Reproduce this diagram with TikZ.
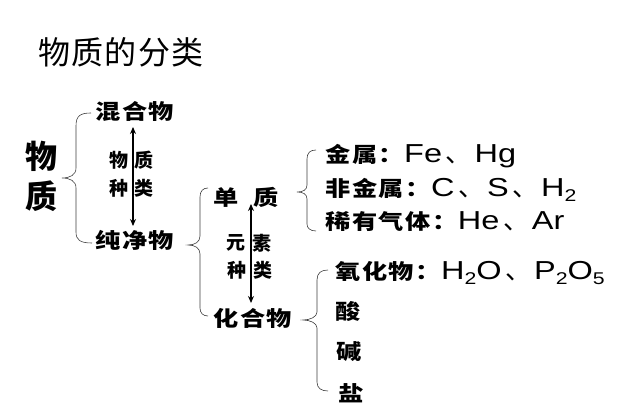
\documentclass[tikz,border=0pt]{standalone}
\usepackage{fontspec}
\setmainfont{Liberation Sans}[FakeStretch=1.25]
\newfontfamily\cjk{Noto Sans CJK SC}
\newfontfamily\cjkb{Noto Sans CJK SC}[FakeStretch=1.2,LetterSpace=8]
\newfontfamily\cjkk{Noto Sans CJK SC}[LetterSpace=4]
\usetikzlibrary{arrows.meta}
\newcommand\chemsub[1]{\raisebox{-0.4ex}{\fontsize{17}{17}\selectfont #1}}
\newcommand\dun{{\cjk\hspace{0.15em}、\hspace{0.1em}}}
\begin{document}
\begin{tikzpicture}[x=1pt,y=-1pt,
  title/.style={inner sep=0,anchor=west,font=\fontsize{32}{32}\selectfont\cjkk},
  huge/.style={inner sep=0,font=\fontsize{32}{32}\selectfont\cjk\bfseries},
  lab/.style={inner sep=0,anchor=west,font=\fontsize{21}{21}\selectfont\cjkb\bfseries},
  mix/.style={inner sep=0,anchor=west,font=\fontsize{26}{26}\selectfont},
  small/.style={inner sep=0,font=\fontsize{19}{19}\selectfont\cjk\bfseries},
  brace/.style={line width=0.6pt,draw=black!75},
  arr/.style={line width=1.6pt,{Stealth[length=7pt,width=6pt]}-{Stealth[length=7pt,width=6pt]}}]
\useasboundingbox[fill=white] (0,0) rectangle (627,419);
% title
\node[title] (t) at (38,52) {物质的分类};
% left
\node[huge] (w) at (41,156) {物};
\node[huge] (z) at (41,196) {质};
\node[lab] (hh) at (95,111) {混合物};
\node[lab] (cj) at (95,240) {纯净物};
\node[lab] (dz) at (213,197) {单\hspace{0.7em}质};
\node[lab] (hhw) at (213,318) {化合物};
% right column
\node[mix] (js) at (325,156) {{\cjkb\bfseries\fontsize{21}{21}\selectfont 金属：}Fe\dun Hg};
\node[mix] (fj) at (325,190) {{\cjkb\bfseries\fontsize{21}{21}\selectfont 非金属：}C\dun S\dun H\chemsub{2}};
\node[mix] (xy) at (325,222) {{\cjkb\bfseries\fontsize{21}{21}\selectfont 稀有气体：}He\dun Ar};
\node[mix] (yh) at (335,273) {{\cjkb\bfseries\fontsize{21}{21}\selectfont 氧化物：}H\chemsub{2}O\dun P\chemsub{2}O\chemsub{5}};
\node[lab] (s) at (335,312) {酸};
\node[lab] (j) at (336,352) {碱};
\node[lab] (y) at (338,393) {盐};
% arrow labels
\node[small] (l1) at (119,160) {物};
\node[small] (l2) at (144,160) {质};
\node[small] (l3) at (119,188) {种};
\node[small] (l4) at (144,188) {类};
\node[small] (m1) at (236,243) {元};
\node[small] (m2) at (262,243) {素};
\node[small] (m3) at (237,270) {种};
\node[small] (m4) at (263,270) {类};
% arrows
\coordinate (a1t) at (133,127);
\coordinate (a1b) at (133,226);
\coordinate (a2t) at (251,204);
\coordinate (a2b) at (251,303);
\draw[arr] (a1t) -- (a1b);
\draw[arr] (a2t) -- (a2b);
% braces
\draw[brace] (91,113) .. controls (80,113) and (76,116) .. (76,126) -- (76,168)
  .. controls (76,175) and (70,178) .. (62,178)
  .. controls (70,178) and (76,181) .. (76,188) -- (76,232)
  .. controls (76,240) and (80,243) .. (92,243);
\draw[brace] (208,188) .. controls (203,188) and (200,191) .. (200,197) -- (200,236)
  .. controls (200,242) and (195,245) .. (188,245)
  .. controls (195,245) and (200,248) .. (200,254) -- (200,308)
  .. controls (200,313) and (203,316) .. (208,316);
\draw[brace] (316,150) .. controls (310,150) and (307,153) .. (307,159) -- (307,185)
  .. controls (307,190) and (303,192) .. (297,192)
  .. controls (303,192) and (307,194) .. (307,199) -- (307,224)
  .. controls (307,228) and (310,231) .. (316,231);
\draw[brace] (328,270) .. controls (321,270) and (317,273) .. (317,280) -- (317,312)
  .. controls (317,317) and (310,320) .. (303,320)
  .. controls (310,320) and (317,323) .. (317,328) -- (317,382)
  .. controls (317,388) and (321,391) .. (328,391);
\end{tikzpicture}
\end{document}
